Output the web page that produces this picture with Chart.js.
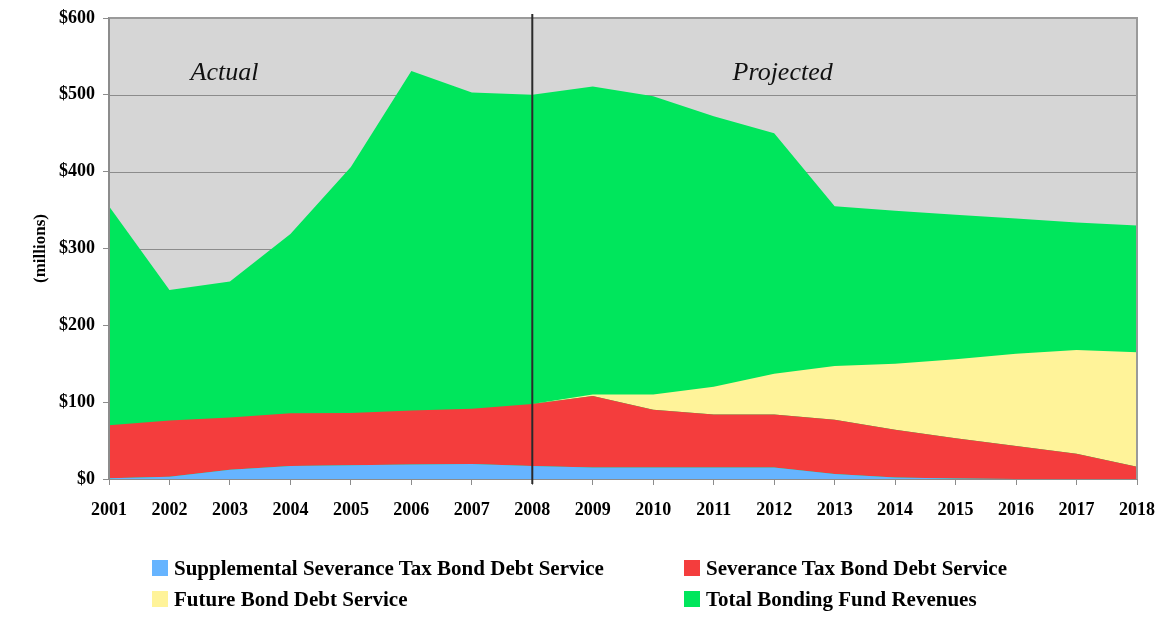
<!DOCTYPE html>
<html>
<head>
<meta charset="utf-8">
<title>Bonding Fund Revenues and Debt Service</title>
<script src="https://cdn.jsdelivr.net/npm/chart.js@4/dist/chart.umd.min.js"></script>
<style>
    body { margin: 0; background: #fff; }
    #wrap { position: relative; width: 1163px; height: 618px; }
    #fundChart { position: absolute; left: 0; top: 0; }
    .legend-item {
        position: absolute;
        font: bold 21px "Liberation Serif", "Times New Roman", serif;
        color: #000;
        white-space: nowrap;
        line-height: 22px;
    }
    .legend-box {
        position: absolute;
        width: 16px;
        height: 16px;
        left: -22px;
        top: 3px;
    }
</style>
</head>
<body>
<div id="wrap">
    <canvas id="fundChart" width="1163" height="618"></canvas>
    <div id="legend"></div>
</div>
<script>
    // Chart data (millions of dollars)
    const years = ['2001', '2002', '2003', '2004', '2005', '2006', '2007', '2008', '2009',
                   '2010', '2011', '2012', '2013', '2014', '2015', '2016', '2017', '2018'];
    const supplementalDebt = [1, 3, 12, 17, 18, 19, 19.5, 17, 15, 15, 15, 15, 6.5, 2, 0.5, 0, 0, 0];
    const severanceDebt = [69, 73, 68, 68.5, 68, 70, 72, 80.5, 93, 75, 69, 69, 70.5, 62, 52.5, 43, 33, 16];
    const futureDebt = [0, 0, 0, 0, 0, 0, 0, 0, 2, 20, 36, 53, 70, 86, 103, 120, 135, 149];
    const totalRevenues = [355, 246, 257, 319, 406, 531, 503, 500, 511, 498, 472, 450, 355, 349, 344, 339, 334, 330];
    const yTicks = [0, 100, 200, 300, 400, 500, 600];
    const seriesNames = ['Supplemental Severance Tax Bond Debt Service', 'Severance Tax Bond Debt Service',
                         'Future Bond Debt Service', 'Total Bonding Fund Revenues'];
    const seriesColors = ['#66b4ff', '#f43d3d', '#fff399', '#00e65c'];

    const serif = '"Liberation Serif", "Times New Roman", serif';
    const splitIndex = 7; // 2008, start of projections

    // Gray plot background + frame, split line and period labels
    const plotDecor = {
        id: 'plotDecor',
        beforeDatasetsDraw(chart) {
            const a = chart.chartArea;
            const ctx = chart.ctx;
            ctx.save();
            ctx.fillStyle = '#d6d6d6';
            ctx.fillRect(a.left, a.top, a.right - a.left, a.bottom - a.top);
            ctx.strokeStyle = '#8c8c8c';
            ctx.lineWidth = 1;
            yTicks.forEach(function(v) {
                const y = Math.round(chart.scales.y.getPixelForValue(v)) + 0.5;
                ctx.beginPath();
                ctx.moveTo(a.left, y);
                ctx.lineTo(a.right, y);
                ctx.stroke();
            });
            ctx.restore();
        },
        afterDatasetsDraw(chart) {
            const a = chart.chartArea;
            const ctx = chart.ctx;
            const xs = chart.scales.x;
            ctx.save();
            ctx.strokeStyle = '#9a9a9a';
            ctx.lineWidth = 2;
            ctx.beginPath();
            ctx.moveTo(a.left, a.top);
            ctx.lineTo(a.right, a.top);
            ctx.lineTo(a.right, a.bottom);
            ctx.stroke();
            ctx.strokeStyle = '#8c8c8c';
            ctx.beginPath();
            ctx.moveTo(a.left, a.top);
            ctx.lineTo(a.left, a.bottom);
            ctx.stroke();

            // divider between actual and projected
            const sx = xs.getPixelForValue(splitIndex);
            ctx.strokeStyle = '#2a2a2a';
            ctx.lineWidth = 2;
            ctx.beginPath();
            ctx.moveTo(sx, a.top - 4);
            ctx.lineTo(sx, a.bottom + 5);
            ctx.stroke();

            ctx.fillStyle = '#111';
            ctx.font = 'italic 26px ' + serif;
            ctx.textAlign = 'center';
            ctx.textBaseline = 'middle';
            ctx.fillText('Actual', xs.getPixelForValue(1.91), a.top + 55);
            ctx.fillText('Projected', xs.getPixelForValue(11.14), a.top + 55);
            ctx.restore();
        }
    };

    const ctx = document.getElementById('fundChart').getContext('2d');
    const fundChart = new Chart(ctx, {
        type: 'line',
        data: {
            labels: years,
            datasets: [{
                label: seriesNames[0],
                data: supplementalDebt,
                backgroundColor: seriesColors[0],
                stack: 'debt',
                fill: 'origin'
            }, {
                label: seriesNames[1],
                data: severanceDebt,
                backgroundColor: seriesColors[1],
                stack: 'debt',
                fill: '-1'
            }, {
                label: seriesNames[2],
                data: futureDebt,
                backgroundColor: seriesColors[2],
                stack: 'debt',
                fill: '-1'
            }, {
                label: seriesNames[3],
                data: totalRevenues,
                backgroundColor: seriesColors[3],
                stack: 'revenue',
                fill: 'origin'
            }]
        },
        options: {
            responsive: false,
            animation: false,
            elements: {
                line: { borderWidth: 0, tension: 0 },
                point: { radius: 0 }
            },
            layout: { padding: { left: 0, top: 18, right: 26, bottom: 0 } },
            plugins: {
                legend: { display: false },
                tooltip: { enabled: false }
            },
            scales: {
                x: {
                    offset: false,
                    grid: { drawOnChartArea: false, drawTicks: true, tickLength: 6, color: '#8c8c8c' },
                    border: { color: '#8c8c8c', width: 2 },
                    ticks: {
                        color: '#000',
                        font: { family: serif, size: 18, weight: 'bold' },
                        padding: 15,
                        maxRotation: 0,
                        autoSkip: false
                    },
                    afterFit: function(scale) {
                        scale.height = 139;
                        scale.paddingLeft = 0;
                        scale.paddingRight = 0;
                    }
                },
                y: {
                    stacked: true,
                    min: 0,
                    max: 600,
                    afterBuildTicks: function(scale) {
                        scale.ticks = yTicks.map(function(v) { return { value: v }; });
                    },
                    grid: { drawOnChartArea: false, drawTicks: true, tickLength: 6, color: '#8c8c8c' },
                    border: { color: '#8c8c8c', width: 2 },
                    ticks: {
                        color: '#000',
                        font: { family: serif, size: 18, weight: 'bold' },
                        padding: 8,
                        callback: function(value) {
                            return '$' + value;
                        }
                    },
                    title: {
                        display: true,
                        text: '(millions)',
                        color: '#000',
                        font: { family: serif, size: 17, weight: 'bold' },
                        padding: { top: 30, bottom: 4 }
                    },
                    afterFit: function(scale) {
                        scale.width = 109;
                        scale.paddingTop = 0;
                        scale.paddingBottom = 0;
                    }
                }
            }
        },
        plugins: [plotDecor]
    });

    // Two-column legend under the chart
    const legendSpots = [[174, 557], [706, 557], [174, 588], [706, 588]];
    const legend = document.getElementById('legend');
    seriesNames.forEach(function(name, i) {
        const item = document.createElement('div');
        item.className = 'legend-item';
        item.style.left = legendSpots[i][0] + 'px';
        item.style.top = legendSpots[i][1] + 'px';
        item.textContent = name;
        const box = document.createElement('span');
        box.className = 'legend-box';
        box.style.background = seriesColors[i];
        item.appendChild(box);
        legend.appendChild(item);
    });
</script>
</body>
</html>
